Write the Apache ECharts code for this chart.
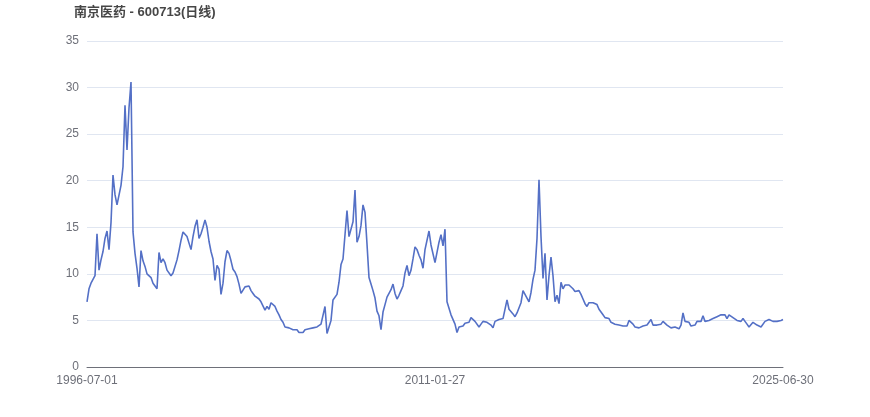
<!DOCTYPE html>
<html>
<head>
<meta charset="utf-8">
<script src="https://cdn.jsdelivr.net/npm/echarts@6/dist/echarts.min.js"></script>
<style>html,body{margin:0;padding:0;background:#fff;}#c{width:870px;height:417px;}</style>
</head>
<body>
<div id="c"></div>
<script>
const titleText = '南京医药 - 600713(日线)';
const tickLabels = ['1996-07-01', '2011-01-27', '2025-06-30'];
const yTicks = [0, 5, 10, 15, 20, 25, 30, 35];

// monthly closes, by period
const close1996_1999 = [7.0,8.4,9.0,8.8,9.8,14.3,10.4,11.5,12.4,13.8,
14.6,12.6,15.5,20.6,18.5,17.4,17.2,19.5,21.5,28.1,
23.3,27.8,30.6,14.5,12.2,10.6,8.6,12.5,11.4,10.8,
10.0,10.2,9.6,9.0,9.1,8.4,12.3,11.2,11.6,11.2,
10.4,10.3];
const close2000_2003 = [9.8,10.1,10.2,11.5,12.5,13.6,14.5,14.4,14.0,13.3,
12.6,14.0,15.1,15.8,13.8,14.3,15.0,15.8,15.0,13.5,
12.4,11.6,9.3,10.9,10.5,7.8,9.0,11.3,12.5,12.2,
11.4,10.5,10.2,9.7,8.9,7.9,7.9,8.6,8.4,8.7,
8.2,7.9,7.6];
const close2003_2006 = [7.4,7.3,7.0,7.1,6.1,6.5,6.2,6.9,7.0,6.5,
6.0,5.6,5.1,4.8,4.3,4.5,4.2,4.3,4.0,3.8,
4.0,3.7,3.5,3.7,4.0,3.8,4.1,4.1,4.2,4.0,
4.3,4.4,4.6,4.5,6.5,3.6,3.4];
const close2006_2009 = [5.0,7.2,7.0,7.8,9.1,11.0,11.6,14.2,16.8,14.0,
14.2,15.6,19.0,13.4,14.0,15.2,17.4,16.6,13.2,9.6,
8.9,8.2,7.4,6.0,5.5,4.0,5.9,6.7,7.5,7.7,
8.3,8.9,7.9,7.3,7.7,8.2,8.7,10.1,10.9,9.8];
const close2010_2013 = [10.4,11.6,12.9,12.6,12.0,11.5,10.6,12.6,12.5,14.6,
13.1,13.2,11.2,12.3,13.4,14.2,13.0,14.8,7.0,6.3,
5.6,5.5,4.6,3.7,4.3,4.4,4.4,4.7,4.7,4.8,
5.3,5.5,4.9,4.8,4.3,4.6,4.9,4.7,4.8,4.6];
const close2013_2017 = [4.5,4.2,4.9,5.1,5.1,5.3,5.2,5.2,7.2,6.2,
6.4,5.7,5.4,5.8,6.0,6.9,8.2,7.8,7.7,7.0,
8.0,9.4,10.4,13.8,20.1,14.0,9.5,12.2,7.2,9.8,
11.8,9.8,7.0,7.7,6.8,9.1,8.4,8.8,8.7,8.8,
8.7,8.4,8.1,7.9,8.2];
const close2017_2021 = [7.8,7.3,6.8,6.5,6.9,6.9,6.9,7.0,6.7,6.2,
6.0,5.6,5.3,5.4,5.2,4.8,4.8,4.6,4.7,4.5,
4.5,4.4,4.2,4.4,5.0,5.1,4.6,4.3,4.4,4.2,
4.3,4.4,4.3,4.5,4.5,5.1,4.5,4.4,4.5,4.3,
4.6,4.9,4.7,4.5,4.4,4.2,4.2,4.3,4.1,4.1];
const close2021_2025 = [4.5,5.8,4.9,4.7,4.8,4.4,4.6,4.5,4.9,4.9,
4.9,5.5,4.9,4.8,5.0,4.9,5.2,5.1,5.4,5.4,
5.6,5.4,5.6,5.2,5.6,5.7,5.3,5.4,5.0,5.1,
4.9,5.2,4.9,4.6,4.3,4.5,4.8,4.7,4.5,4.3,
4.3,4.3,4.9,5.1,5.1,4.9,4.9,4.7,4.9,5.0,
5.0,5.1];

const values = [].concat(close1996_1999, close2000_2003, close2003_2006, close2006_2009,
  close2010_2013, close2013_2017, close2017_2021, close2021_2025);

// monthly category dates 1996-07 .. 2025-06, plus the last trading day
const categories = [];
for (let y = 1996, m = 7; y < 2025 || (y === 2025 && m <= 6); ) {
  categories.push(y + '-' + String(m).padStart(2, '0') + '-01');
  m++; if (m > 12) { m = 1; y++; }
}
categories[0] = tickLabels[0];
categories.push(tickLabels[2]);
const mid = Math.floor((categories.length - 1) / 2);
categories[mid] = tickLabels[1];

const chart = echarts.init(document.getElementById('c'), null, {renderer: 'canvas'});
const font = '"Liberation Sans", Arial, "Noto Sans CJK SC", sans-serif';
chart.setOption({
  animation: false,
  textStyle: {fontFamily: font},
  title: {
    text: titleText, left: 69, top: 1,
    textStyle: {fontSize: 13, fontWeight: 'bold', color: '#464646', fontFamily: font}
  },
  grid: {left: 87, right: 87, top: 41, bottom: 50},
  xAxis: {
    type: 'category', data: categories, boundaryGap: false,
    axisLine: {lineStyle: {color: '#6e7079'}},
    axisTick: {show: false},
    axisLabel: {interval: mid - 1, color: '#6e7079', fontSize: 12, fontFamily: font}
  },
  yAxis: {
    type: 'value', min: yTicks[0], max: yTicks[yTicks.length - 1], interval: 5,
    axisLabel: {color: '#6e7079', fontSize: 12, fontFamily: font},
    splitLine: {lineStyle: {color: '#e0e6f1'}}
  },
  series: [{
    type: 'line', data: values, showSymbol: false, symbol: 'none',
    lineStyle: {color: '#5470c6', width: 1.6}
  }]
});
</script>
</body>
</html>
